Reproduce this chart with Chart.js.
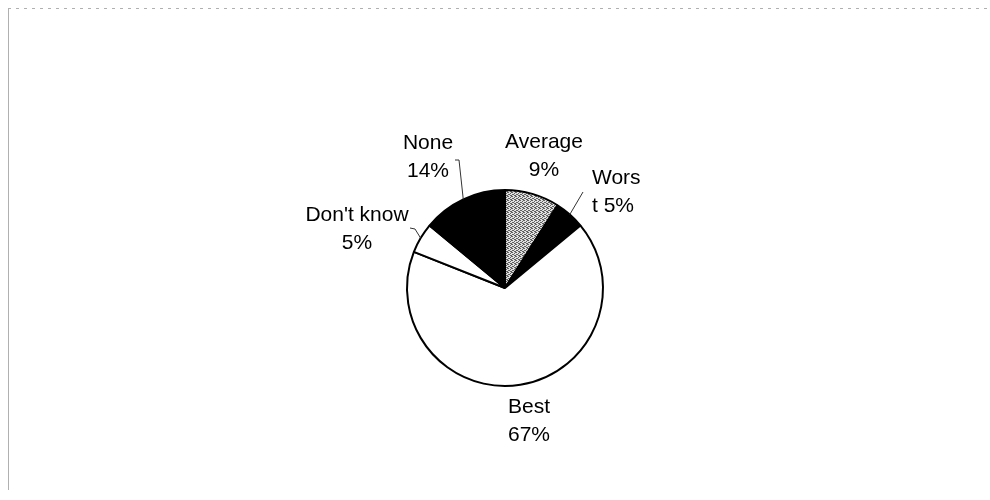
<!DOCTYPE html>
<html><head><meta charset="utf-8">
<script src="https://cdn.jsdelivr.net/npm/chart.js@4.4.1/dist/chart.umd.min.js"></script>
<style>html,body{margin:0;padding:0;background:#fff}#wrap{width:990px;height:500px;position:relative}</style>
</head><body><div id="wrap"><canvas id="c" width="990" height="500"></canvas></div>
<script>
// ---- data ----
const categories = ["Average", "Worst", "Best", "Don't know", "None"];
const labelFirstLines = ["Average", "Wors", "Best", "Don't know", "None"];
const labelSecondPrefix = ["", "t ", "", "", ""];
const values = [9, 5, 67, 5, 14];

// ---- styling ----
function stipple() {
  const c = document.createElement('canvas');
  c.width = 4; c.height = 4;
  const x = c.getContext('2d');
  x.fillStyle = '#e0e0e0'; x.fillRect(0, 0, 4, 4);
  x.fillStyle = '#606060';
  [[0,0],[2,1],[1,2],[3,3],[2,3],[0,2],[3,0]].forEach(p => x.fillRect(p[0], p[1], 1, 1));
  return x.createPattern(c, 'repeat');
}
const sliceFill = [stipple(), '#000000', '#ffffff', '#ffffff', '#000000'];

// label layout relative to pie centre (text placement only)
const labelLayout = [
  {dx: 39, dy: -140, align: 'center', leader: null},
  {dx: 87, dy: -104, align: 'left', leader: [[78, -96]]},
  {dx: 24, dy: 125, align: 'center', leader: null},
  {dx: -148, dy: -67, align: 'center', leader: [[-90, -59], [-95, -60]]},
  {dx: -77, dy: -139, align: 'center', leader: [[-46, -128], [-50, -128]]}
];
const LINE_H = 28;

const labelPlugin = {
  id: 'pieLabels',
  afterDatasetsDraw(chart) {
    const ctx = chart.ctx;
    const meta = chart.getDatasetMeta(0);
    ctx.save();
    meta.data.forEach((arc, i) => {
      const L = labelLayout[i];
      const cx = arc.x, cy = arc.y;
      const mid = (arc.startAngle + arc.endAngle) / 2;
      if (L.leader) {
        const r = arc.outerRadius;
        ctx.beginPath();
        ctx.strokeStyle = '#333';
        ctx.lineWidth = 1;
        ctx.moveTo(cx + Math.cos(mid) * r, cy + Math.sin(mid) * r);
        L.leader.forEach(p => ctx.lineTo(cx + p[0], cy + p[1]));
        ctx.stroke();
      }
      ctx.fillStyle = '#000';
      ctx.font = '21px "Liberation Sans", Arial, sans-serif';
      ctx.textAlign = L.align;
      ctx.textBaseline = 'alphabetic';
      ctx.fillText(labelFirstLines[i], cx + L.dx, cy + L.dy);
      ctx.fillText(labelSecondPrefix[i] + values[i] + '%', cx + L.dx, cy + L.dy + LINE_H);
    });
    ctx.restore();
  }
};

const framePlugin = {
  id: 'frame',
  beforeDraw(chart) {
    const ctx = chart.ctx;
    ctx.save();
    ctx.strokeStyle = '#b0b0b0';
    ctx.lineWidth = 1;
    ctx.beginPath();
    ctx.moveTo(8.5, 8); ctx.lineTo(8.5, 490);
    ctx.stroke();
    ctx.setLineDash([3, 5]);
    ctx.beginPath();
    ctx.moveTo(8, 8.5); ctx.lineTo(990, 8.5);
    ctx.stroke();
    ctx.restore();
  }
};

new Chart(document.getElementById('c'), {
  type: 'pie',
  data: {
    labels: categories,
    datasets: [{
      data: values,
      backgroundColor: sliceFill,
      borderColor: '#000000',
      borderWidth: 2,
      hoverOffset: 0
    }]
  },
  options: {
    responsive: false,
    animation: false,
    devicePixelRatio: 1,
    radius: 98,
    layout: {padding: {left: 395, right: 375, top: 178, bottom: 102}},
    plugins: {legend: {display: false}, tooltip: {enabled: false}}
  },
  plugins: [framePlugin, labelPlugin]
});
</script>
</body></html>
